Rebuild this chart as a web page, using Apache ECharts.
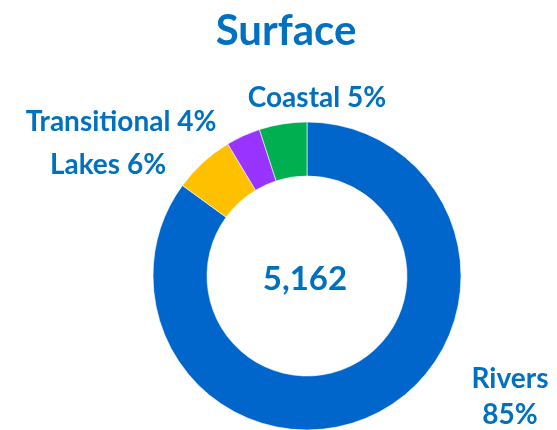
<!DOCTYPE html>
<html>
<head>
<meta charset="utf-8">
<script src="https://cdn.jsdelivr.net/npm/echarts@6/dist/echarts.min.js"></script>
<style>
html,body{margin:0;padding:0;background:#fff;}
#chart{width:557px;height:430px;}
</style>
</head>
<body>
<div id="chart"></div>
<script>
const titleText = 'Surface';
const categories = ['Rivers', 'Lakes', 'Transitional', 'Coastal'];
const values = [4388, 330, 186, 258];
const colors = ['#0066CC', '#FFC000', '#9933FF', '#00B050'];

const textColor = '#0070C0';
const fontFamily = 'Lato, "Open Sans", sans-serif';
const labelPos = {
  Rivers: { x: 510, y: 397 },
  Lakes: { x: 108, y: 165 },
  Transitional: { x: 121, y: 121.5 },
  Coastal: { x: 317, y: 98 }
};

const total = values.reduce((a, b) => a + b, 0);
const chart = echarts.init(document.getElementById('chart'), null, { renderer: 'canvas' });
chart.setOption({
  animation: false,
  backgroundColor: '#fff',
  title: [
    {
      text: titleText,
      left: 281, top: 5, textAlign: 'center',
      textStyle: { color: textColor, fontFamily, fontWeight: 'bold', fontSize: 42 }
    },
    {
      text: total.toLocaleString('en-US'),
      left: 300, top: 258, textAlign: 'center',
      textStyle: { color: textColor, fontFamily, fontWeight: 'bold', fontSize: 33 }
    }
  ],
  series: [{
    type: 'pie',
    center: [307, 276],
    radius: [100, 154],
    startAngle: 90,
    clockwise: true,
    silent: true,
    itemStyle: { borderColor: '#fff', borderWidth: 0.6 },
    labelLine: { show: false },
    label: {
      show: true,
      position: 'outside',
      overflow: 'none',
      color: textColor,
      fontFamily,
      fontWeight: 'bold',
      fontSize: 28,
      lineHeight: 36,
      formatter: p => {
        const pct = Math.round(p.percent) + '%';
        return p.name === 'Rivers' ? p.name + '\n' + pct : p.name + ' ' + pct;
      }
    },
    labelLayout: params => {
      const name = categories[params.dataIndex];
      const pos = labelPos[name];
      return { x: pos.x, y: pos.y, align: 'center', verticalAlign: 'middle', hideOverlap: false, moveOverlap: false };
    },
    data: categories.map((c, i) => ({ name: c, value: values[i], itemStyle: { color: colors[i] } }))
  }]
});
</script>
</body>
</html>
